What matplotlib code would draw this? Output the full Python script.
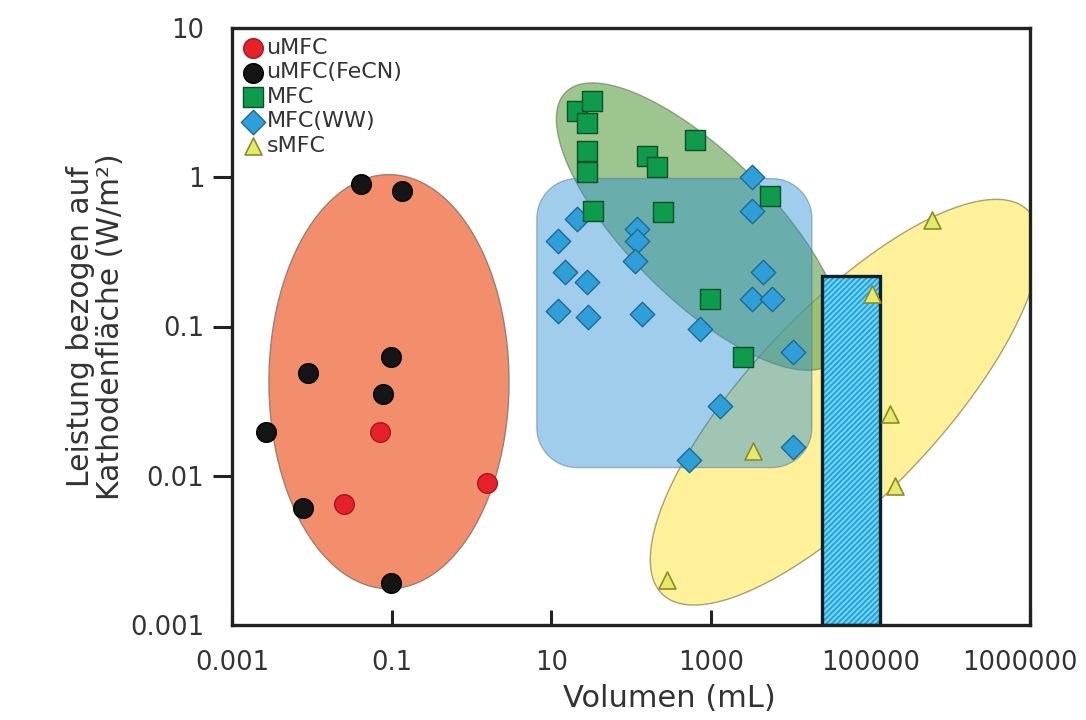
import numpy as np
import matplotlib
matplotlib.use("Agg")
import matplotlib.pyplot as plt
import matplotlib.transforms as mtransforms
from matplotlib.patches import Polygon

# ---------------- data ----------------
umfc_x = [0.0716, 0.0254, 1.57]
umfc_y = [0.0195, 0.0065, 0.0089]

fecn_x = [0.0414, 0.135, 0.098, 0.00895, 0.078, 0.00267, 0.00776, 0.098]
fecn_y = [0.908, 0.815, 0.0624, 0.0486, 0.0352, 0.0195, 0.00612, 0.00191]

mfc_x = [21.0, 32.5, 28.1, 28.1, 28.1, 159, 212, 634, 5520, 33.4, 252, 977, 2533]
mfc_y = [2.77, 3.23, 2.30, 1.49, 1.09, 1.38, 1.18, 1.77, 0.753, 0.597, 0.589, 0.153, 0.0624]

ww_x = [21.0, 12.2, 14.9, 28.1, 12.2, 28.9, 119, 119, 112, 137,
        3283, 3283, 4510, 3283, 5850, 732, 10720, 1304, 10720, 533]
ww_y = [0.528, 0.376, 0.232, 0.199, 0.127, 0.116, 0.452, 0.376, 0.275, 0.121,
        1.01, 0.597, 0.232, 0.153, 0.153, 0.0961, 0.0675, 0.0292, 0.0155, 0.0128]

smfc_x = [1.05e5, 1.76e5, 3380, 2.03e5, 283, 5.92e5]
smfc_y = [0.165, 0.0258, 0.0146, 0.00848, 0.00201, 0.520]

bar_left, bar_right = 2.47e4, 1.32e5
bar_bottom, bar_top = 0.001, 0.218

x_ticks = [1e-3, 1e-1, 1e1, 1e3, 1e5, 1e7]
x_ticklabels = ["0.001", "0.1", "10", "1000", "100000", "1000000"]
y_ticks = [1e-3, 1e-2, 1e-1, 1e0, 1e1]
y_ticklabels = ["0.001", "0.01", "0.1", "1", "10"]

labels = ["uMFC", "uMFC(FeCN)", "MFC", "MFC(WW)", "sMFC"]

# ---------------- figure ----------------
plt.rcParams["font.family"] = ["DejaVu Sans"]
plt.rcParams["hatch.linewidth"] = 1.3
W_PX, H_PX = 1086, 720
fig = plt.figure(figsize=(W_PX / 100, H_PX / 100), dpi=100)
L, B, R, T = 232 / W_PX, 1 - 625 / H_PX, 1030 / W_PX, 1 - 28 / H_PX
ax = fig.add_axes([L, B, R - L, T - B])
ax.set_xscale("log")
ax.set_yscale("log")
ax.set_xlim(1e-3, 1e7)
ax.set_ylim(1e-3, 10)

PXX = (R - L) * W_PX / 10.0   # pixels per decade (x)
PXY = (T - B) * H_PX / 4.0    # pixels per decade (y)


def to_data(cx, cy, dx, dy):
    return np.column_stack([10 ** (np.log10(cx) + dx / PXX),
                            10 ** (np.log10(cy) + dy / PXY)])


def ellipse(cx, cy, a, b, ang, **kw):
    t = np.linspace(0, 2 * np.pi, 300)
    th = np.deg2rad(ang)
    dx = a * np.cos(t) * np.cos(th) - b * np.sin(t) * np.sin(th)
    dy = a * np.cos(t) * np.sin(th) + b * np.sin(t) * np.cos(th)
    ax.add_patch(Polygon(to_data(cx, cy, dx, dy), closed=True, **kw))


def rounded_rect(x0, x1, y0, y1, r, **kw):
    w = (np.log10(x1) - np.log10(x0)) * PXX
    h = (np.log10(y1) - np.log10(y0)) * PXY
    pts = []
    corners = [(w - r, h - r, 0), (r, h - r, 90), (r, r, 180), (w - r, r, 270)]
    for cxp, cyp, start in corners:
        a = np.deg2rad(np.linspace(start, start + 90, 30))
        pts.append(np.column_stack([cxp + r * np.cos(a), cyp + r * np.sin(a)]))
    pts = np.vstack(pts)
    ax.add_patch(Polygon(to_data(x0, y0, pts[:, 0], pts[:, 1]), closed=True, **kw))


# regions
ellipse(0.0927, 0.0427, 120, 207, 0, facecolor="#F38E6C", edgecolor="#9A8070",
        linewidth=1.0, zorder=1)
ellipse(48100, 0.0311, 265, 94, 46.5, facecolor="#FFF199", edgecolor="#A8A070",
        linewidth=1.0, zorder=1)
ellipse(733, 0.467, 190, 72, -45, facecolor="#6EAA5A", alpha=0.68, edgecolor="#6F8060",
        linewidth=1.0, zorder=2)
rounded_rect(6.6, 18500, 0.01135, 0.98, 40, facecolor="#2C90D3", alpha=0.45,
             edgecolor="#50708A", linewidth=1.0, zorder=3)

# hatched bar
ax.bar([bar_left], [bar_top - bar_bottom], width=[bar_right - bar_left],
       bottom=bar_bottom, align="edge", color="#6AD8F6", edgecolor="#2A9BD3",
       hatch="//////", linewidth=0, zorder=4)
ax.bar([bar_left], [bar_top - bar_bottom], width=[bar_right - bar_left],
       bottom=bar_bottom, align="edge", fill=False, edgecolor="#10202A",
       linewidth=2.4, zorder=4.1)

# markers
ax.scatter(umfc_x, umfc_y, s=200, marker="o", facecolor="#E8202A", edgecolor="#A01A20",
           linewidth=1.0, zorder=6, label=labels[0])
ax.scatter(fecn_x, fecn_y, s=200, marker="o", facecolor="#151515", edgecolor="#000000",
           linewidth=1.0, zorder=6, label=labels[1])
ax.scatter(ww_x, ww_y, s=155, marker="D", facecolor="#2E9FD8", edgecolor="#1F6A95",
           linewidth=1.0, zorder=6, label=labels[3])
ax.scatter(mfc_x, mfc_y, s=200, marker="s", facecolor="#0E9C4C", edgecolor="#0A4F28",
           linewidth=1.0, zorder=7, label=labels[2])
ax.scatter(smfc_x, smfc_y, s=150, marker="^", facecolor="#E4EA6A", edgecolor="#8C8C2A",
           linewidth=1.2, zorder=6, label=labels[4])

# legend (in listed order)
h, l = ax.get_legend_handles_labels()
order = [l.index(name) for name in labels]
leg = ax.legend([h[i] for i in order], [l[i] for i in order], loc="upper left",
                frameon=False, fontsize=16, labelspacing=0.2, handletextpad=0.1,
                handlelength=1.0, borderaxespad=0.2, borderpad=0.25,
                labelcolor="#333333")

# axes styling
for sp in ax.spines.values():
    sp.set_linewidth(2.4)
    sp.set_color("#222222")
    sp.set_zorder(8)

ax.set_xticks(x_ticks)
ax.set_xticklabels(x_ticklabels)
ax.set_yticks(y_ticks)
ax.set_yticklabels(y_ticklabels)
ax.minorticks_off()
ax.tick_params(axis="x", direction="in", length=11, width=2.2, pad=18,
               labelsize=18.5, colors="#222222", labelcolor="#333333")
ax.tick_params(axis="y", direction="out", length=14, width=2.2, pad=6,
               labelsize=18.5, colors="#222222", labelcolor="#333333")
yt = ax.yaxis.get_major_ticks()
yt[0].tick1line.set_visible(False)
yt[-1].tick1line.set_visible(False)

# shift the last x tick label slightly left so it stays inside the figure
last = ax.get_xticklabels()[-1]
last.set_transform(last.get_transform() +
                   mtransforms.ScaledTranslation(-10 / 100, 0, fig.dpi_scale_trans))

ax.set_xlabel("Volumen (mL)", fontsize=22, color="#333333")
ax.xaxis.set_label_coords((669 - 232) / 798, -0.098)
ax.set_ylabel("Leistung bezogen auf\nKathodenfläche (W/m²)", fontsize=21.5,
              color="#333333", linespacing=1.05)
ax.yaxis.set_label_coords(-0.134, 0.5)

fig.savefig("out.png", dpi=100)
